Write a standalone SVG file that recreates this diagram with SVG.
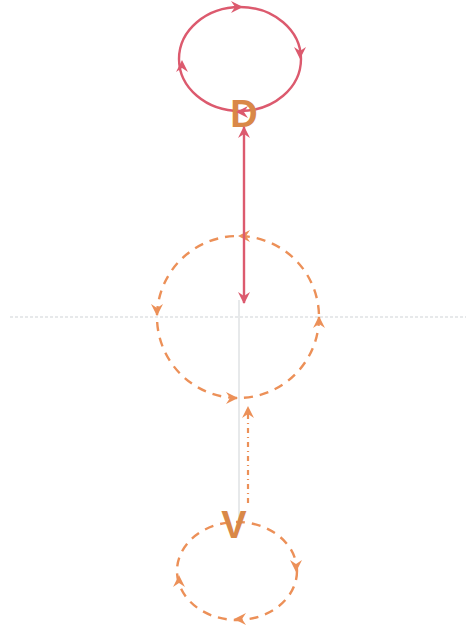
<svg xmlns="http://www.w3.org/2000/svg" width="466" height="632" viewBox="0 0 466 632">
<style>
.red{fill:none;stroke:#dc5a6e;stroke-width:2.4}
.org{fill:none;stroke:#ec9058;stroke-width:2.4;stroke-dasharray:9 7}
.guide{fill:none;stroke:#cfd3d6;stroke-width:1}
.lbl{font-family:"Liberation Sans",Arial,sans-serif;font-weight:bold;font-size:38px;fill:#d98848;text-anchor:middle}
.ahr{fill:#dc5a6e}
.aho{fill:#ec9058}
</style>
<defs>
<path id="ah" d="M6,0 L-6,-6 L-2,0 L-6,6 Z"/>
<marker id="mr" markerWidth="14" markerHeight="14" refX="11" refY="7" orient="auto-start-reverse" markerUnits="userSpaceOnUse">
<path d="M12,7 L0,1 L4,7 L0,13 Z" fill="#dc5a6e"/>
</marker>
<marker id="mo" markerWidth="14" markerHeight="14" refX="11" refY="7" orient="auto" markerUnits="userSpaceOnUse">
<path d="M12,7 L0,1 L4,7 L0,13 Z" fill="#ec9058"/>
</marker>
</defs>
<g id="guides">
<line class="guide" x1="10" y1="317" x2="466" y2="317" stroke-dasharray="3 2"/>
<line class="guide" x1="239" y1="300" x2="239" y2="520"/>
</g>
<g id="node-D">
<ellipse class="red" cx="240" cy="59" rx="61" ry="52"/>
<use href="#ah" class="ahr" transform="translate(237,7)"/>
<use href="#ah" class="ahr" transform="translate(300,53) rotate(90)"/>
<use href="#ah" class="ahr" transform="translate(182,66) rotate(-90)"/>
<text class="lbl" x="244" y="127">D</text>
<use href="#ah" class="ahr" transform="translate(242,112) rotate(180)"/>
</g>
<g id="node-middle">
<circle class="org" cx="238" cy="317" r="81"/>
<use href="#ah" class="aho" transform="translate(244,236) rotate(180)"/>
<use href="#ah" class="aho" transform="translate(157,310) rotate(90)"/>
<use href="#ah" class="aho" transform="translate(232,398)"/>
<use href="#ah" class="aho" transform="translate(319,322) rotate(-90)"/>
</g>
<g id="node-V">
<ellipse class="org" cx="237" cy="571" rx="60" ry="49"/>
<use href="#ah" class="aho" transform="translate(296,566) rotate(90)"/>
<use href="#ah" class="aho" transform="translate(240,619) rotate(180)"/>
<use href="#ah" class="aho" transform="translate(179,581) rotate(-90)"/>
<text class="lbl" x="234" y="538">V</text>
</g>
<g id="connectors">
<line x1="244" y1="127" x2="244" y2="303" stroke="#dc5a6e" stroke-width="2.4" marker-start="url(#mr)" marker-end="url(#mr)"/>
<line x1="248" y1="503" x2="248" y2="407" stroke="#ec9058" stroke-width="2.2" stroke-dasharray="5 4 1 4" marker-end="url(#mo)"/>
</g>
</svg>
